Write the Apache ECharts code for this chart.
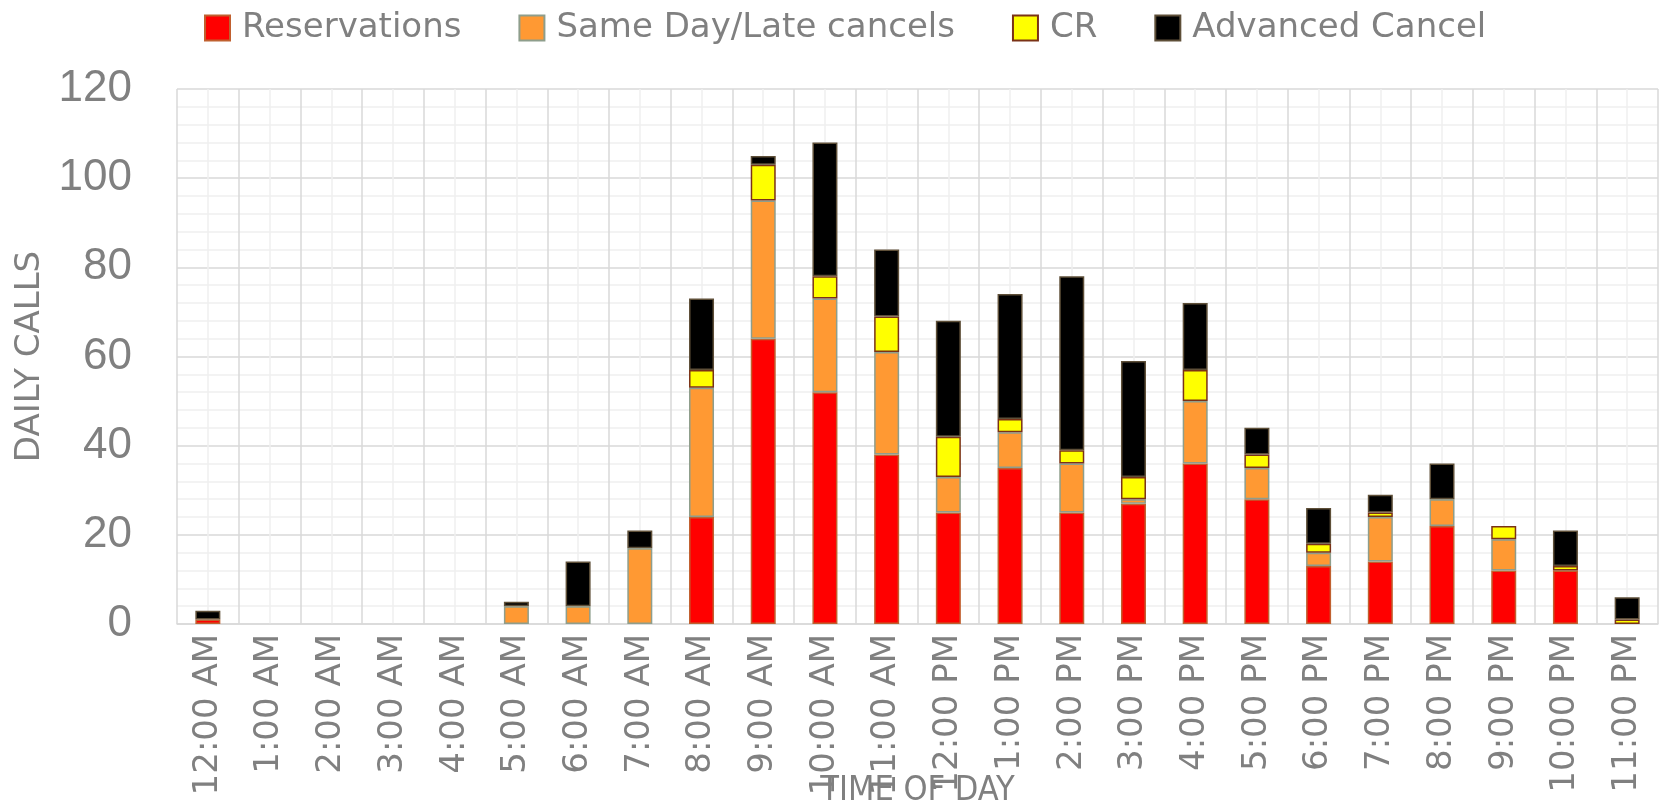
<!DOCTYPE html>
<html>
<head>
<meta charset="utf-8">
<script src="https://cdn.jsdelivr.net/npm/echarts@6/dist/echarts.min.js"></script>
<style>
  html, body { margin: 0; padding: 0; background: #fff; }
  #chart { width: 1659px; height: 808px; }
</style>
</head>
<body>
<div id="chart"></div>
<script>
const hours = [
  '12:00 AM', '1:00 AM', '2:00 AM', '3:00 AM', '4:00 AM', '5:00 AM',
  '6:00 AM', '7:00 AM', '8:00 AM', '9:00 AM', '10:00 AM', '11:00 AM',
  '12:00 PM', '1:00 PM', '2:00 PM', '3:00 PM', '4:00 PM', '5:00 PM',
  '6:00 PM', '7:00 PM', '8:00 PM', '9:00 PM', '10:00 PM', '11:00 PM'
]
const reservations = [1, 0, 0, 0, 0, 0, 0, 0, 24, 64, 52, 38, 25, 35, 25, 27, 36, 28, 13, 14, 22, 12, 12, 0]
const sameDayLate = [0, 0, 0, 0, 0, 4, 4, 17, 29, 31, 21, 23, 8, 8, 11, 1, 14, 7, 3, 10, 6, 7, 0, 0]
const cr = [0, 0, 0, 0, 0, 0, 0, 0, 4, 8, 5, 8, 9, 3, 3, 5, 7, 3, 2, 1, 0, 3, 1, 1]
const advancedCancel = [2, 0, 0, 0, 0, 1, 10, 4, 16, 2, 30, 15, 26, 28, 39, 26, 15, 6, 8, 4, 8, 0, 8, 5]
const yTicks = [0, 20, 40, 60, 80, 100, 120]

const grey = '#808080'

function barSeries(name, values, fill, border) {
  return {
    name: name,
    type: 'bar',
    stack: 'calls',
    xAxisIndex: 0,
    barWidth: 25,
    itemStyle: { color: fill, borderColor: border, borderWidth: 1.5 },
    // skip empty segments so they don't leave a border line
    data: values.map(v => (v ? v : null))
  }
}

const chart = echarts.init(document.getElementById('chart'))

chart.setOption({
  animation: false,
  legend: {
    top: 6,
    left: 199,
    itemWidth: 25,
    itemHeight: 25,
    itemGap: 57,
    icon: 'rect',
    textStyle: {
      fontFamily: 'DejaVu Sans',
      fontSize: 34,
      color: grey,
      padding: [0, 0, 0, 7]
    }
  },
  grid: {
    left: 177,
    right: 1,
    top: 89,
    bottom: 184,
    containLabel: false,
    outerBoundsMode: 'none'
  },
  xAxis: [
    {
      type: 'category',
      data: hours,
      boundaryGap: true,
      axisLine: { lineStyle: { color: '#d9d9d9', width: 1.5 } },
      axisTick: { show: false },
      splitLine: { show: false },
      axisLabel: {
        rotate: 90,
        margin: 10,
        interval: 0,
        fontFamily: 'DejaVu Sans',
        fontSize: 34,
        color: grey
      },
      name: 'TIME OF DAY',
      nameLocation: 'middle',
      nameGap: 150,
      nameMoveOverlap: false,
      nameTextStyle: {
        fontFamily: 'DejaVu Sans Condensed',
        fontSize: 34,
        color: grey
      }
    },
    {
      // invisible helper axis: category borders + category centre lines
      type: 'value',
      position: 'top',
      min: 0,
      max: hours.length * 2,
      interval: 1,
      axisLine: { show: false },
      axisTick: { show: false },
      axisLabel: { show: false },
      splitLine: { show: true, lineStyle: { color: ['#d9d9d9', '#efefef'], width: 1.5 } }
    }
  ],
  yAxis: {
    type: 'value',
    min: yTicks[0],
    max: yTicks[yTicks.length - 1],
    interval: 20,
    axisLine: { show: false },
    axisTick: { show: false },
    axisLabel: {
      margin: 45,
      fontFamily: 'Liberation Sans',
      fontSize: 44,
      color: grey
    },
    splitLine: { lineStyle: { color: '#d9d9d9', width: 1.5 } },
    minorTick: { show: false, splitNumber: 5 },
    minorSplitLine: { show: true, lineStyle: { color: '#efefef', width: 1.5 } },
    name: 'DAILY CALLS',
    nameLocation: 'middle',
    nameGap: 130,
    nameMoveOverlap: false,
    nameTextStyle: {
      fontFamily: 'DejaVu Sans',
      fontSize: 34,
      color: grey
    }
  },
  series: [
    barSeries('Reservations', reservations, '#ff0000', '#c0602f'),
    barSeries('Same Day/Late cancels', sameDayLate, '#ff9933', '#8e9e8c'),
    barSeries('CR', cr, '#ffff00', '#7a3217'),
    barSeries('Advanced Cancel', advancedCancel, '#000000', '#5e4f38')
  ]
})
</script>
</body>
</html>
